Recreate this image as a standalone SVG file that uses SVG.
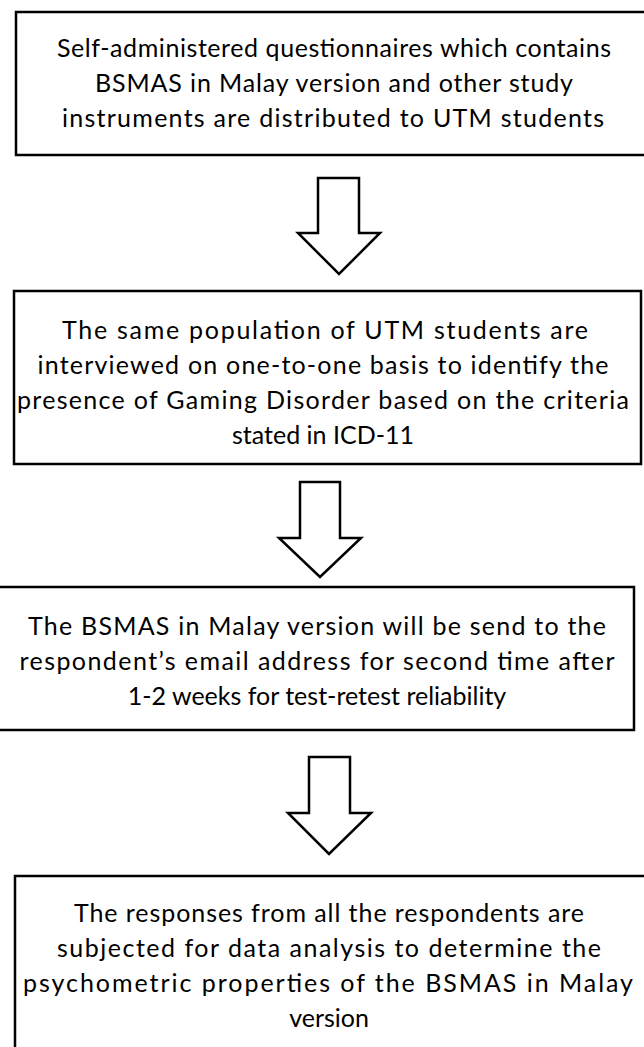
<svg xmlns="http://www.w3.org/2000/svg" width="644" height="1047" viewBox="0 0 644 1047">
<style>
.box{fill:#fff;stroke:#000;stroke-width:2.5}
.arrow{fill:#fff;stroke:#000;stroke-width:2.5;stroke-linejoin:miter}
.t{font-family:Lato,"Open Sans","Liberation Sans",sans-serif;font-size:25px;fill:#000;text-anchor:middle}
</style>
<rect width="644" height="1047" fill="#fff"/>
<g id="node1">
<rect class="box" x="16" y="12" width="640" height="143"/>
<text class="t" x="334" y="57" textLength="554">Self-administered questionnaires which contains</text>
<text class="t" x="334" y="92" textLength="478">BSMAS in Malay version and other study</text>
<text class="t" x="333" y="127" textLength="542">instruments are distributed to UTM students</text>
</g>
<g id="node2">
<rect class="box" x="14" y="291" width="627" height="173"/>
<text class="t" x="325" y="339" textLength="526">The same population of UTM students are</text>
<text class="t" x="323" y="374" textLength="571">interviewed on one-to-one basis to identify the</text>
<text class="t" x="323" y="409" textLength="612">presence of Gaming Disorder based on the criteria</text>
<text class="t" x="323" y="444">stated in ICD-11</text>
</g>
<g id="node3">
<rect class="box" x="-10" y="587" width="644" height="143"/>
<text class="t" x="317" y="635" textLength="578">The BSMAS in Malay version will be send to the</text>
<text class="t" x="317" y="670" textLength="595">respondent’s email address for second time after</text>
<text class="t" x="317" y="705">1-2 weeks for test-retest reliability</text>
</g>
<g id="node4">
<rect class="box" x="15" y="876" width="660" height="200"/>
<text class="t" x="329" y="922" textLength="510">The responses from all the respondents are</text>
<text class="t" x="329" y="957" textLength="544">subjected for data analysis to determine the</text>
<text class="t" x="328" y="992" textLength="610">psychometric properties of the BSMAS in Malay</text>
<text class="t" x="329" y="1027">version</text>
</g>
<g id="connectors">
<polygon class="arrow" points="318,178 359,178 359,233 380,233 339,274 298,233 318,233"/>
<polygon class="arrow" points="300,482 340,482 340,538 361,538 320,577 279,538 300,538"/>
<polygon class="arrow" points="309,757 350,757 350,813 371,813 329,854 288,813 309,813"/>
</g>
</svg>
